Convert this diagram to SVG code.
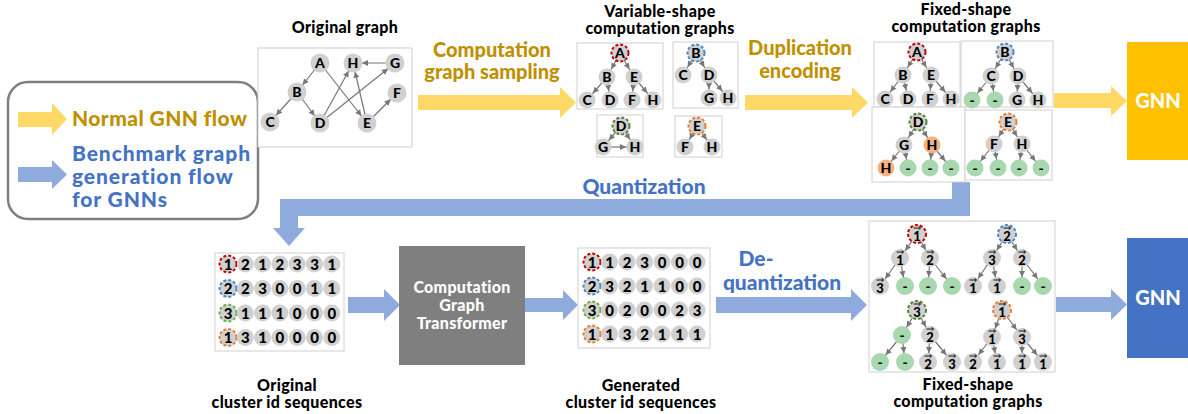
<svg xmlns="http://www.w3.org/2000/svg" xmlns:xlink="http://www.w3.org/1999/xlink" width="1188" height="414" viewBox="0 0 1188 414">
<style>
text{font-family:Lato,"Noto Sans",sans-serif;font-weight:900}
.n{fill:#D0D0D0}
.gr{fill:#A8D8B0}
.or{fill:#F4B183}
.rr{stroke:#C00000;stroke-width:2;stroke-dasharray:3 2}
.rb{stroke:#4A86C8;stroke-width:2;stroke-dasharray:3 2}
.rg{stroke:#548235;stroke-width:2;stroke-dasharray:3 2}
.rg2{stroke:#70AD47;stroke-width:2;stroke-dasharray:3 2}
.ro{stroke:#ED7D31;stroke-width:2;stroke-dasharray:3 2}
.l{font-size:14px;text-anchor:middle;fill:#000}
.d{font-size:13px;text-anchor:middle;fill:#000}
.s{font-size:15px;text-anchor:middle;fill:#000}
.box{fill:#fff;stroke:#D0D0D0;stroke-width:1}
.ttl{font-size:16px;letter-spacing:0.35px;text-anchor:middle;fill:#000}
.gold{font-size:20px;text-anchor:middle;fill:#BF9000}
.blue{font-size:21px;text-anchor:middle;fill:#4472C4}
.ya{fill:#FFD966}
.ba{fill:#8FAADC}
.e{stroke:#777;stroke-width:1.2;fill:none;marker-end:url(#ah)}
.w{font-size:16px;letter-spacing:0.3px;text-anchor:middle;fill:#fff}
.lg{font-size:21px}
</style>
<defs>
<marker id="ah" markerUnits="userSpaceOnUse" viewBox="0 0 24 8" markerWidth="24" markerHeight="8" refX="24" refY="4" orient="auto"><path d="M9,1 L15,4 L9,7 z" fill="#777"/></marker>
<path id="v" d="M-3.5,0 H3.5 M1.6,-1.8 L3.5,0 L1.6,1.8" stroke="#000" stroke-width="0.9" fill="none"/>
</defs>
<rect width="1188" height="414" fill="#fff"/>

<!-- flow arrows -->
<g id="flows">
<path class="ya" d="M418,95 H560 V87 L576,102.5 L560,118 V110 H418 Z"/>
<path class="ya" d="M745,95 H852 V87 L868,102.5 L852,118 V110 H745 Z"/>
<path class="ya" d="M1054,93 H1111 V86 L1127,101 L1111,116 V108 H1054 Z"/>
<path class="ba" d="M970,182 V216 H298 V228 H305 L289,246 L273,228 H280 V199 H952 V182 Z"/>
<path class="ba" d="M348,297 H384 V289 L400,305 L384,321 V313 H348 Z"/>
<path class="ba" d="M525,298 H563 V290 L578,305 L563,320 V312 H525 Z"/>
<path class="ba" d="M716,297 H851 V289 L867,305 L851,321 V313 H716 Z"/>
<path class="ba" d="M1056,297 H1111 V289 L1127,304.5 L1111,320 V312 H1056 Z"/>
</g>

<!-- legend -->
<g id="legend">
<rect x="8" y="82" width="250" height="137" rx="20" fill="#fff" stroke="#7F7F7F" stroke-width="2.5"/>
<path class="ya" d="M18,112 H52 V103 L67,119 L52,135 V127 H18 Z"/>
<path class="ba" d="M18,167 H52 V160 L67,174.5 L52,189 V182 H18 Z"/>
<text class="lg" x="72" y="126" fill="#BF9000" letter-spacing="0.4">Normal GNN flow</text>
<text class="lg" fill="#4472C4" letter-spacing="0.9"><tspan x="72" y="161">Benchmark graph</tspan><tspan x="72" y="184">generation flow</tspan><tspan x="72" y="207">for GNNs</tspan></text>
</g>

<!-- labels -->
<g id="labels">
<text class="ttl" x="345" y="33">Original graph</text>
<text class="ttl"><tspan x="660" y="17">Variable-shape</tspan><tspan x="660" y="34">computation graphs</tspan></text>
<text class="ttl"><tspan x="966" y="15">Fixed-shape</tspan><tspan x="966" y="32">computation graphs</tspan></text>
<text class="gold"><tspan x="492" y="57">Computation</tspan><tspan x="492" y="79">graph sampling</tspan></text>
<text class="gold"><tspan x="800" y="55">Duplication</tspan><tspan x="800" y="78">encoding</tspan></text>
<text class="blue" x="644" y="194">Quantization</text>
<text class="blue"><tspan x="756" y="266">De-</tspan><tspan x="782" y="290">quantization</tspan></text>
<text class="ttl"><tspan x="287" y="391">Original</tspan><tspan x="287" y="408">cluster id sequences</tspan></text>
<text class="ttl"><tspan x="641" y="391">Generated</tspan><tspan x="641" y="408">cluster id sequences</tspan></text>
<text class="ttl"><tspan x="968" y="390">Fixed-shape</tspan><tspan x="968" y="407">computation graphs</tspan></text>
</g>

<!-- GNN boxes and transformer -->
<g id="gnn-top"><rect x="1127" y="42" width="61" height="118" fill="#FFC000"/><text x="1158" y="108" font-size="20" text-anchor="middle" fill="#fff">GNN</text></g>
<g id="gnn-bottom"><rect x="1127" y="238" width="61" height="120" fill="#4472C4"/><text x="1158" y="305" font-size="20" text-anchor="middle" fill="#fff">GNN</text></g>
<g id="transformer"><rect x="399" y="246" width="126" height="119" fill="#7F7F7F"/>
<text class="w"><tspan x="462" y="293">Computation</tspan><tspan x="462" y="311">Graph</tspan><tspan x="462" y="329">Transformer</tspan></text></g>

<!-- frames -->
<g id="frames">
<rect class="box" x="258" y="48" width="154" height="99"/>
<rect class="box" x="577" y="43" width="86" height="66"/>
<rect class="box" x="673" y="42" width="65" height="66"/>
<rect class="box" x="597" y="115" width="46" height="42"/>
<rect class="box" x="675" y="116" width="47" height="41"/>
<rect class="box" x="874" y="42" width="86" height="65"/>
<rect class="box" x="961" y="41" width="92" height="66"/>
<rect class="box" x="872" y="107" width="93" height="75"/>
<rect class="box" x="965" y="110" width="87" height="70"/>
<rect class="box" x="215" y="253" width="129" height="98"/>
<rect class="box" x="578" y="248" width="132" height="100"/>
<rect class="box" x="869" y="221" width="186" height="151"/>
</g>

<!-- connectors -->
<g id="connectors">
<line class="e" x1="320" y1="63" x2="297" y2="92"/>
<line class="e" x1="297" y1="92" x2="270" y2="122"/>
<line class="e" x1="297" y1="92" x2="320" y2="123"/>
<line class="e" x1="320" y1="63" x2="367" y2="123"/>
<line class="e" x1="320" y1="123" x2="353" y2="63"/>
<line class="e" x1="320" y1="123" x2="395" y2="63"/>
<line class="e" x1="367" y1="123" x2="353" y2="63"/>
<line class="e" x1="367" y1="123" x2="397" y2="93"/>
<line class="e" x1="395" y1="63" x2="353" y2="63"/>

<line class="e" x1="620" y1="53" x2="607" y2="77"/>
<line class="e" x1="620" y1="53" x2="634" y2="77"/>
<line class="e" x1="607" y1="77" x2="587" y2="100"/>
<line class="e" x1="607" y1="77" x2="610" y2="100"/>
<line class="e" x1="634" y1="77" x2="632" y2="100"/>
<line class="e" x1="634" y1="77" x2="653" y2="100"/>
<line class="e" x1="696" y1="53" x2="683" y2="75"/>
<line class="e" x1="696" y1="53" x2="709" y2="75"/>
<line class="e" x1="709" y1="75" x2="709" y2="98"/>
<line class="e" x1="709" y1="75" x2="728" y2="98"/>
<line class="e" x1="621" y1="126" x2="603" y2="147"/>
<line class="e" x1="621" y1="126" x2="635" y2="147"/>
<line class="e" x1="603" y1="147" x2="635" y2="147"/>
<line class="e" x1="697" y1="126" x2="685" y2="147"/>
<line class="e" x1="697" y1="126" x2="712" y2="147"/>

<line class="e" x1="917" y1="52" x2="903" y2="75"/>
<line class="e" x1="917" y1="52" x2="931" y2="75"/>
<line class="e" x1="903" y1="75" x2="885" y2="99"/>
<line class="e" x1="903" y1="75" x2="908" y2="99"/>
<line class="e" x1="931" y1="75" x2="930" y2="99"/>
<line class="e" x1="931" y1="75" x2="951" y2="99"/>
<line class="e" x1="1005" y1="52" x2="991" y2="76"/>
<line class="e" x1="1005" y1="52" x2="1018" y2="76"/>
<line class="e" x1="991" y1="76" x2="972" y2="100"/>
<line class="e" x1="991" y1="76" x2="995" y2="100"/>
<line class="e" x1="1018" y1="76" x2="1017" y2="100"/>
<line class="e" x1="1018" y1="76" x2="1038" y2="100"/>
<line class="e" x1="918" y1="122" x2="904" y2="145"/>
<line class="e" x1="918" y1="122" x2="932" y2="145"/>
<line class="e" x1="904" y1="145" x2="886" y2="168"/>
<line class="e" x1="904" y1="145" x2="908" y2="168"/>
<line class="e" x1="932" y1="145" x2="930" y2="168"/>
<line class="e" x1="932" y1="145" x2="951" y2="168"/>
<line class="e" x1="1008" y1="122" x2="994" y2="144"/>
<line class="e" x1="1008" y1="122" x2="1022" y2="144"/>
<line class="e" x1="994" y1="144" x2="975" y2="168"/>
<line class="e" x1="994" y1="144" x2="998" y2="168"/>
<line class="e" x1="1022" y1="144" x2="1019" y2="168"/>
<line class="e" x1="1022" y1="144" x2="1041" y2="168"/>

<line class="e" x1="917" y1="234" x2="900" y2="258"/>
<line class="e" x1="917" y1="234" x2="930" y2="258"/>
<line class="e" x1="900" y1="258" x2="880" y2="286"/>
<line class="e" x1="900" y1="258" x2="905" y2="286"/>
<line class="e" x1="930" y1="258" x2="928" y2="286"/>
<line class="e" x1="930" y1="258" x2="952" y2="286"/>
<line class="e" x1="1007" y1="234" x2="992" y2="258"/>
<line class="e" x1="1007" y1="234" x2="1022" y2="258"/>
<line class="e" x1="992" y1="258" x2="973" y2="286"/>
<line class="e" x1="992" y1="258" x2="997" y2="286"/>
<line class="e" x1="1022" y1="258" x2="1022" y2="286"/>
<line class="e" x1="1022" y1="258" x2="1043" y2="286"/>
<line class="e" x1="917" y1="310" x2="902" y2="335"/>
<line class="e" x1="917" y1="310" x2="930" y2="335"/>
<line class="e" x1="902" y1="335" x2="880" y2="362"/>
<line class="e" x1="902" y1="335" x2="905" y2="362"/>
<line class="e" x1="930" y1="335" x2="928" y2="362"/>
<line class="e" x1="930" y1="335" x2="952" y2="362"/>
<line class="e" x1="1002" y1="310" x2="992" y2="337"/>
<line class="e" x1="1002" y1="310" x2="1022" y2="337"/>
<line class="e" x1="992" y1="337" x2="973" y2="362"/>
<line class="e" x1="992" y1="337" x2="997" y2="362"/>
<line class="e" x1="1022" y1="337" x2="1022" y2="362"/>
<line class="e" x1="1022" y1="337" x2="1043" y2="362"/>
</g>

<!-- original graph nodes -->
<g id="orig-graph">
<g id="og-A"><circle class="n" cx="320" cy="63" r="9.5"/><text class="l" x="320" y="68">A</text></g>
<g id="og-H"><circle class="n" cx="353" cy="63" r="9.5"/><text class="l" x="353" y="68">H</text></g>
<g id="og-G"><circle class="n" cx="395" cy="63" r="9.5"/><text class="l" x="395" y="68">G</text></g>
<g id="og-B"><circle class="n" cx="297" cy="92" r="9.5"/><text class="l" x="297" y="97">B</text></g>
<g id="og-F"><circle class="n" cx="397" cy="93" r="9.5"/><text class="l" x="397" y="98">F</text></g>
<g id="og-C"><circle class="n" cx="270" cy="122" r="9.5"/><text class="l" x="270" y="127">C</text></g>
<g id="og-D"><circle class="n" cx="320" cy="123" r="9.5"/><text class="l" x="320" y="128">D</text></g>
<g id="og-E"><circle class="n" cx="367" cy="123" r="9.5"/><text class="l" x="367" y="128">E</text></g>
</g>

<!-- variable-shape -->
<g id="var-graphs">
<g id="va-A"><circle class="n rr" cx="620" cy="53" r="8.5"/><text class="l" x="620" y="58">A</text></g>
<g id="va-B"><circle class="n" cx="607" cy="77" r="8.5"/><text class="l" x="607" y="82">B</text></g>
<g id="va-E"><circle class="n" cx="634" cy="77" r="8.5"/><text class="l" x="634" y="82">E</text></g>
<g id="va-C"><circle class="n" cx="587" cy="100" r="8.5"/><text class="l" x="587" y="105">C</text></g>
<g id="va-D"><circle class="n" cx="610" cy="100" r="8.5"/><text class="l" x="610" y="105">D</text></g>
<g id="va-F"><circle class="n" cx="632" cy="100" r="8.5"/><text class="l" x="632" y="105">F</text></g>
<g id="va-H"><circle class="n" cx="653" cy="100" r="8.5"/><text class="l" x="653" y="105">H</text></g>
<g id="vb-B"><circle class="n rb" cx="696" cy="53" r="8.5"/><text class="l" x="696" y="58">B</text></g>
<g id="vb-C"><circle class="n" cx="683" cy="75" r="8.5"/><text class="l" x="683" y="80">C</text></g>
<g id="vb-D"><circle class="n" cx="709" cy="75" r="8.5"/><text class="l" x="709" y="80">D</text></g>
<g id="vb-G"><circle class="n" cx="709" cy="98" r="8.5"/><text class="l" x="709" y="103">G</text></g>
<g id="vb-H"><circle class="n" cx="728" cy="98" r="8.5"/><text class="l" x="728" y="103">H</text></g>
<g id="vd-D"><circle class="n rg" cx="621" cy="126" r="8.5"/><text class="l" x="621" y="131">D</text></g>
<g id="vd-G"><circle class="n" cx="603" cy="147" r="8.5"/><text class="l" x="603" y="152">G</text></g>
<g id="vd-H"><circle class="n" cx="635" cy="147" r="8.5"/><text class="l" x="635" y="152">H</text></g>
<g id="ve-E"><circle class="n ro" cx="697" cy="126" r="8.5"/><text class="l" x="697" y="131">E</text></g>
<g id="ve-F"><circle class="n" cx="685" cy="147" r="8.5"/><text class="l" x="685" y="152">F</text></g>
<g id="ve-H"><circle class="n" cx="712" cy="147" r="8.5"/><text class="l" x="712" y="152">H</text></g>
</g>

<!-- fixed-shape top -->
<g id="fix-graphs">
<g id="fa-A"><circle class="n rr" cx="917" cy="52" r="8.5"/><text class="l" x="917" y="57">A</text></g>
<g id="fa-B"><circle class="n" cx="903" cy="75" r="8.5"/><text class="l" x="903" y="80">B</text></g>
<g id="fa-E"><circle class="n" cx="931" cy="75" r="8.5"/><text class="l" x="931" y="80">E</text></g>
<g id="fa-C"><circle class="n" cx="885" cy="99" r="8.5"/><text class="l" x="885" y="104">C</text></g>
<g id="fa-D"><circle class="n" cx="908" cy="99" r="8.5"/><text class="l" x="908" y="104">D</text></g>
<g id="fa-F"><circle class="n" cx="930" cy="99" r="8.5"/><text class="l" x="930" y="104">F</text></g>
<g id="fa-H"><circle class="n" cx="951" cy="99" r="8.5"/><text class="l" x="951" y="104">H</text></g>
<g id="fb-B"><circle class="n rb" cx="1005" cy="52" r="8.5"/><text class="l" x="1005" y="57">B</text></g>
<g id="fb-C"><circle class="n" cx="991" cy="76" r="8.5"/><text class="l" x="991" y="81">C</text></g>
<g id="fb-D"><circle class="n" cx="1018" cy="76" r="8.5"/><text class="l" x="1018" y="81">D</text></g>
<g id="fb-x1"><circle class="gr" cx="972" cy="100" r="8.5"/><text class="l" x="972" y="105">-</text></g>
<g id="fb-x2"><circle class="gr" cx="995" cy="100" r="8.5"/><text class="l" x="995" y="105">-</text></g>
<g id="fb-G"><circle class="n" cx="1017" cy="100" r="8.5"/><text class="l" x="1017" y="105">G</text></g>
<g id="fb-H"><circle class="n" cx="1038" cy="100" r="8.5"/><text class="l" x="1038" y="105">H</text></g>
<g id="fd-D"><circle class="n rg" cx="918" cy="122" r="8.5"/><text class="l" x="918" y="127">D</text></g>
<g id="fd-G"><circle class="n" cx="904" cy="145" r="8.5"/><text class="l" x="904" y="150">G</text></g>
<g id="fd-H"><circle class="or" cx="932" cy="145" r="8.5"/><text class="l" x="932" y="150">H</text></g>
<g id="fd-H2"><circle class="or" cx="886" cy="168" r="8.5"/><text class="l" x="886" y="173">H</text></g>
<g id="fd-x1"><circle class="gr" cx="908" cy="168" r="8.5"/><text class="l" x="908" y="173">-</text></g>
<g id="fd-x2"><circle class="gr" cx="930" cy="168" r="8.5"/><text class="l" x="930" y="173">-</text></g>
<g id="fd-x3"><circle class="gr" cx="951" cy="168" r="8.5"/><text class="l" x="951" y="173">-</text></g>
<g id="fe-E"><circle class="n ro" cx="1008" cy="122" r="8.5"/><text class="l" x="1008" y="127">E</text></g>
<g id="fe-F"><circle class="n" cx="994" cy="144" r="8.5"/><text class="l" x="994" y="149">F</text></g>
<g id="fe-H"><circle class="n" cx="1022" cy="144" r="8.5"/><text class="l" x="1022" y="149">H</text></g>
<g id="fe-x1"><circle class="gr" cx="975" cy="168" r="8.5"/><text class="l" x="975" y="173">-</text></g>
<g id="fe-x2"><circle class="gr" cx="998" cy="168" r="8.5"/><text class="l" x="998" y="173">-</text></g>
<g id="fe-x3"><circle class="gr" cx="1019" cy="168" r="8.5"/><text class="l" x="1019" y="173">-</text></g>
<g id="fe-x4"><circle class="gr" cx="1041" cy="168" r="8.5"/><text class="l" x="1041" y="173">-</text></g>
</g>

<!-- original sequences -->
<g id="orig-seq">
<g id="os-r1">
<circle class="n rr" cx="228" cy="264" r="8.5"/><circle class="n" cx="245.3" cy="264" r="8.5"/><circle class="n" cx="262.6" cy="264" r="8.5"/><circle class="n" cx="279.9" cy="264" r="8.5"/><circle class="n" cx="297.2" cy="264" r="8.5"/><circle class="n" cx="314.5" cy="264" r="8.5"/><circle class="n" cx="331.8" cy="264" r="8.5"/>
<text class="s" y="269.5"><tspan x="228">1</tspan><tspan x="245.3">2</tspan><tspan x="262.6">1</tspan><tspan x="279.9">2</tspan><tspan x="297.2">3</tspan><tspan x="314.5">3</tspan><tspan x="331.8">1</tspan></text></g>
<g id="os-r2">
<circle class="n rb" cx="228" cy="288.5" r="8.5"/><circle class="n" cx="245.3" cy="288.5" r="8.5"/><circle class="n" cx="262.6" cy="288.5" r="8.5"/><circle class="n" cx="279.9" cy="288.5" r="8.5"/><circle class="n" cx="297.2" cy="288.5" r="8.5"/><circle class="n" cx="314.5" cy="288.5" r="8.5"/><circle class="n" cx="331.8" cy="288.5" r="8.5"/>
<text class="s" y="294"><tspan x="228">2</tspan><tspan x="245.3">2</tspan><tspan x="262.6">3</tspan><tspan x="279.9">0</tspan><tspan x="297.2">0</tspan><tspan x="314.5">1</tspan><tspan x="331.8">1</tspan></text></g>
<g id="os-r3">
<circle class="n rg2" cx="228" cy="313" r="8.5"/><circle class="n" cx="245.3" cy="313" r="8.5"/><circle class="n" cx="262.6" cy="313" r="8.5"/><circle class="n" cx="279.9" cy="313" r="8.5"/><circle class="n" cx="297.2" cy="313" r="8.5"/><circle class="n" cx="314.5" cy="313" r="8.5"/><circle class="n" cx="331.8" cy="313" r="8.5"/>
<text class="s" y="318.5"><tspan x="228">3</tspan><tspan x="245.3">1</tspan><tspan x="262.6">1</tspan><tspan x="279.9">1</tspan><tspan x="297.2">0</tspan><tspan x="314.5">0</tspan><tspan x="331.8">0</tspan></text></g>
<g id="os-r4">
<circle class="n ro" cx="228" cy="337.5" r="8.5"/><circle class="n" cx="245.3" cy="337.5" r="8.5"/><circle class="n" cx="262.6" cy="337.5" r="8.5"/><circle class="n" cx="279.9" cy="337.5" r="8.5"/><circle class="n" cx="297.2" cy="337.5" r="8.5"/><circle class="n" cx="314.5" cy="337.5" r="8.5"/><circle class="n" cx="331.8" cy="337.5" r="8.5"/>
<text class="s" y="343"><tspan x="228">1</tspan><tspan x="245.3">3</tspan><tspan x="262.6">1</tspan><tspan x="279.9">0</tspan><tspan x="297.2">0</tspan><tspan x="314.5">0</tspan><tspan x="331.8">0</tspan></text></g>
</g>

<!-- generated sequences -->
<g id="gen-seq">
<g id="gs-r1">
<circle class="n rr" cx="592" cy="262" r="8.5"/><circle class="n" cx="609.5" cy="262" r="8.5"/><circle class="n" cx="627" cy="262" r="8.5"/><circle class="n" cx="644.5" cy="262" r="8.5"/><circle class="n" cx="662" cy="262" r="8.5"/><circle class="n" cx="679.5" cy="262" r="8.5"/><circle class="n" cx="697" cy="262" r="8.5"/>
<text class="s" y="267.5"><tspan x="592">1</tspan><tspan x="609.5">1</tspan><tspan x="627">2</tspan><tspan x="644.5">3</tspan><tspan x="662">0</tspan><tspan x="679.5">0</tspan><tspan x="697">0</tspan></text></g>
<g id="gs-r2">
<circle class="n rb" cx="592" cy="286" r="8.5"/><circle class="n" cx="609.5" cy="286" r="8.5"/><circle class="n" cx="627" cy="286" r="8.5"/><circle class="n" cx="644.5" cy="286" r="8.5"/><circle class="n" cx="662" cy="286" r="8.5"/><circle class="n" cx="679.5" cy="286" r="8.5"/><circle class="n" cx="697" cy="286" r="8.5"/>
<text class="s" y="291.5"><tspan x="592">2</tspan><tspan x="609.5">3</tspan><tspan x="627">2</tspan><tspan x="644.5">1</tspan><tspan x="662">1</tspan><tspan x="679.5">0</tspan><tspan x="697">0</tspan></text></g>
<g id="gs-r3">
<circle class="n rg2" cx="592" cy="310" r="8.5"/><circle class="n" cx="609.5" cy="310" r="8.5"/><circle class="n" cx="627" cy="310" r="8.5"/><circle class="n" cx="644.5" cy="310" r="8.5"/><circle class="n" cx="662" cy="310" r="8.5"/><circle class="n" cx="679.5" cy="310" r="8.5"/><circle class="n" cx="697" cy="310" r="8.5"/>
<text class="s" y="315.5"><tspan x="592">3</tspan><tspan x="609.5">0</tspan><tspan x="627">2</tspan><tspan x="644.5">0</tspan><tspan x="662">0</tspan><tspan x="679.5">2</tspan><tspan x="697">3</tspan></text></g>
<g id="gs-r4">
<circle class="n ro" cx="592" cy="334" r="8.5"/><circle class="n" cx="609.5" cy="334" r="8.5"/><circle class="n" cx="627" cy="334" r="8.5"/><circle class="n" cx="644.5" cy="334" r="8.5"/><circle class="n" cx="662" cy="334" r="8.5"/><circle class="n" cx="679.5" cy="334" r="8.5"/><circle class="n" cx="697" cy="334" r="8.5"/>
<text class="s" y="339.5"><tspan x="592">1</tspan><tspan x="609.5">1</tspan><tspan x="627">3</tspan><tspan x="644.5">2</tspan><tspan x="662">1</tspan><tspan x="679.5">1</tspan><tspan x="697">1</tspan></text></g>
</g>

<!-- fixed-shape bottom (de-quantized) -->
<g id="deq-graphs">
<g id="q1-r"><circle class="n rr" cx="917" cy="234" r="9"/><use href="#v" x="917" y="228"/><text class="d" x="917" y="240.5">1</text></g>
<g id="q1-a"><circle class="n" cx="900" cy="258" r="9"/><use href="#v" x="900" y="252"/><text class="d" x="900" y="264.5">1</text></g>
<g id="q1-b"><circle class="n" cx="930" cy="258" r="9"/><use href="#v" x="930" y="252"/><text class="d" x="930" y="264.5">2</text></g>
<g id="q1-c"><circle class="n" cx="880" cy="286" r="9"/><use href="#v" x="880" y="280"/><text class="d" x="880" y="292.5">3</text></g>
<g id="q1-d"><circle class="gr" cx="905" cy="286" r="9"/><text class="l" x="905" y="291">-</text></g>
<g id="q1-e"><circle class="gr" cx="928" cy="286" r="9"/><text class="l" x="928" y="291">-</text></g>
<g id="q1-f"><circle class="gr" cx="952" cy="286" r="9"/><text class="l" x="952" y="291">-</text></g>

<g id="q2-r"><circle class="n rb" cx="1007" cy="234" r="9"/><use href="#v" x="1007" y="228"/><text class="d" x="1007" y="240.5">2</text></g>
<g id="q2-a"><circle class="n" cx="992" cy="258" r="9"/><use href="#v" x="992" y="252"/><text class="d" x="992" y="264.5">3</text></g>
<g id="q2-b"><circle class="n" cx="1022" cy="258" r="9"/><use href="#v" x="1022" y="252"/><text class="d" x="1022" y="264.5">2</text></g>
<g id="q2-c"><circle class="n" cx="973" cy="286" r="9"/><use href="#v" x="973" y="280"/><text class="d" x="973" y="292.5">1</text></g>
<g id="q2-d"><circle class="n" cx="997" cy="286" r="9"/><use href="#v" x="997" y="280"/><text class="d" x="997" y="292.5">1</text></g>
<g id="q2-e"><circle class="gr" cx="1022" cy="286" r="9"/><text class="l" x="1022" y="291">-</text></g>
<g id="q2-f"><circle class="gr" cx="1043" cy="286" r="9"/><text class="l" x="1043" y="291">-</text></g>

<g id="q3-r"><circle class="n rg" cx="917" cy="310" r="9"/><use href="#v" x="917" y="304"/><text class="d" x="917" y="316.5">3</text></g>
<g id="q3-a"><circle class="gr" cx="902" cy="335" r="9"/><text class="l" x="902" y="340">-</text></g>
<g id="q3-b"><circle class="n" cx="930" cy="335" r="9"/><use href="#v" x="930" y="329"/><text class="d" x="930" y="341.5">2</text></g>
<g id="q3-c"><circle class="gr" cx="880" cy="362" r="9"/><text class="l" x="880" y="367">-</text></g>
<g id="q3-d"><circle class="gr" cx="905" cy="362" r="9"/><text class="l" x="905" y="367">-</text></g>
<g id="q3-e"><circle class="n" cx="928" cy="362" r="9"/><use href="#v" x="928" y="356"/><text class="d" x="928" y="368.5">2</text></g>
<g id="q3-f"><circle class="n" cx="952" cy="362" r="9"/><use href="#v" x="952" y="356"/><text class="d" x="952" y="368.5">3</text></g>

<g id="q4-r"><circle class="n ro" cx="1002" cy="310" r="9"/><use href="#v" x="1002" y="304"/><text class="d" x="1002" y="316.5">1</text></g>
<g id="q4-a"><circle class="n" cx="992" cy="337" r="9"/><use href="#v" x="992" y="331"/><text class="d" x="992" y="343.5">1</text></g>
<g id="q4-b"><circle class="n" cx="1022" cy="337" r="9"/><use href="#v" x="1022" y="331"/><text class="d" x="1022" y="343.5">3</text></g>
<g id="q4-c"><circle class="n" cx="973" cy="362" r="9"/><use href="#v" x="973" y="356"/><text class="d" x="973" y="368.5">2</text></g>
<g id="q4-d"><circle class="n" cx="997" cy="362" r="9"/><use href="#v" x="997" y="356"/><text class="d" x="997" y="368.5">1</text></g>
<g id="q4-e"><circle class="n" cx="1022" cy="362" r="9"/><use href="#v" x="1022" y="356"/><text class="d" x="1022" y="368.5">1</text></g>
<g id="q4-f"><circle class="n" cx="1043" cy="362" r="9"/><use href="#v" x="1043" y="356"/><text class="d" x="1043" y="368.5">1</text></g>
</g>
</svg>
